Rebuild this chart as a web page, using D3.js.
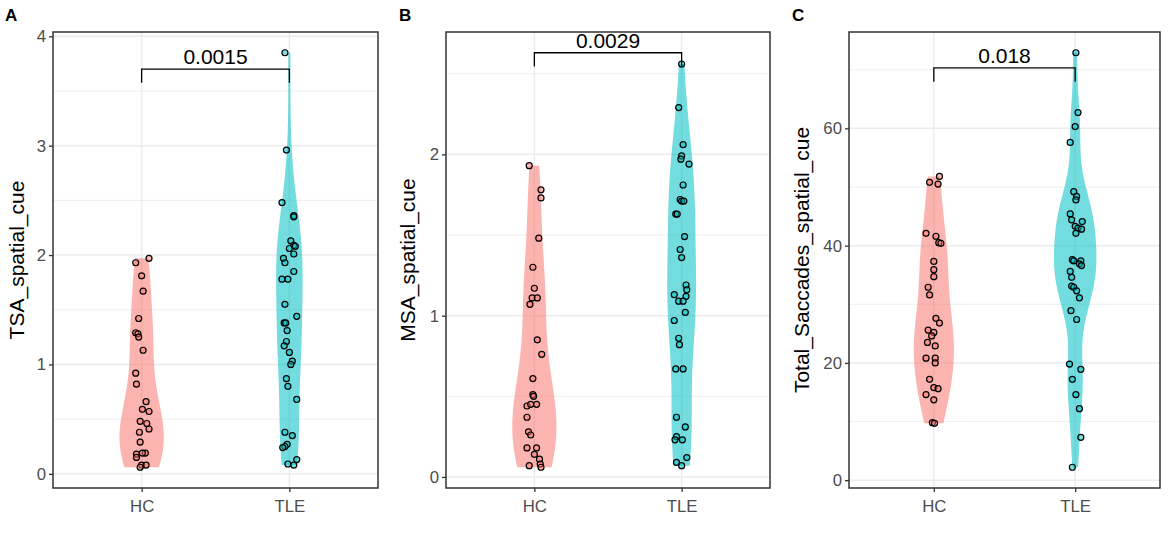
<!DOCTYPE html>
<html>
<head>
<meta charset="utf-8">
<script src="https://cdn.jsdelivr.net/npm/d3@7/dist/d3.min.js"></script>
<style>
  html, body { margin: 0; padding: 0; background: #fff; }
  svg { display: block; font-family: "Liberation Sans", Arial, sans-serif; }
</style>
</head>
<body>
<svg id="chart" width="1170" height="534"></svg>
<script>
// ---------------- DATA ----------------
const groups = ["HC", "TLE"];
const panelLetters = ["A", "B", "C"];
const yTitles = ["TSA_spatial_cue", "MSA_spatial_cue", "Total_Saccades_spatial_cue"];
const pValueLabels = ["0.0015", "0.0029", "0.018"];
const bracketY = [3.70, 2.63, 70.3];
const yTicksA = [0, 1, 2, 3, 4];
const yTicksB = [0, 1, 2];
const yTicksC = [0, 20, 40, 60];

// Panel A: TSA_spatial_cue
const tsaHC = [1.97, 1.93, 1.81, 1.67, 1.42, 1.29, 1.28, 1.25, 1.13, 0.92, 0.82, 0.66, 0.59, 0.57, 0.48, 0.46, 0.41, 0.38, 0.29, 0.19, 0.18, 0.19, 0.15, 0.08, 0.08, 0.06];
const tsaHCJitter = [0.05, -0.04, 0, 0.01, -0.02, -0.04, -0.025, -0.02, 0.01, -0.04, -0.035, 0.03, 0.005, 0.05, -0.01, 0.035, 0.05, -0.015, -0.01, 0.025, -0.035, 0.005, -0.035, 0, 0.03, -0.01];
const tsaTLE = [3.85, 2.96, 2.48, 2.36, 2.35, 2.13, 2.09, 2.08, 2.06, 2.01, 1.97, 1.93, 1.85, 1.78, 1.78, 1.55, 1.44, 1.38, 1.38, 1.31, 1.21, 1.17, 1.11, 1.03, 1.00, 0.87, 0.80, 0.68, 0.38, 0.35, 0.27, 0.25, 0.24, 0.13, 0.09, 0.08];
const tsaTLEJitter = [-0.03, -0.02, -0.05, 0.03, 0.03, 0.01, 0.03, 0.04, 0, 0.03, -0.04, -0.03, 0.03, -0.05, -0.01, -0.03, 0.05, -0.035, -0.025, -0.015, -0.02, -0.035, 0, 0.02, 0.01, -0.02, -0.01, 0.05, -0.03, 0.02, -0.015, -0.03, -0.045, 0.05, -0.01, 0.03];

// Panel B: MSA_spatial_cue
const msaHC = [1.93, 1.78, 1.73, 1.48, 1.30, 1.17, 1.11, 1.11, 1.07, 0.85, 0.76, 0.61, 0.51, 0.50, 0.45, 0.44, 0.45, 0.37, 0.28, 0.26, 0.18, 0.18, 0.14, 0.11, 0.07, 0.08, 0.06];
const msaHCJitter = [-0.035, 0.045, 0.045, 0.03, -0.01, 0, -0.015, 0.02, -0.03, 0.02, 0.05, -0.01, -0.01, -0.005, 0.015, -0.05, -0.025, -0.05, -0.04, -0.025, -0.05, 0.015, 0, 0.035, -0.035, 0.04, 0.045];
const msaTLE = [2.56, 2.29, 2.06, 1.99, 1.97, 1.94, 1.81, 1.72, 1.71, 1.71, 1.63, 1.63, 1.49, 1.41, 1.36, 1.19, 1.16, 1.13, 1.12, 1.09, 1.09, 1.02, 0.97, 0.86, 0.82, 0.67, 0.67, 0.37, 0.31, 0.25, 0.23, 0.23, 0.12, 0.09, 0.07];
const msaTLEJitter = [0, -0.02, 0.01, 0, -0.005, 0.05, 0.01, -0.01, 0, 0.015, -0.04, -0.03, 0.02, -0.01, 0, 0.03, 0.035, -0.05, 0.03, -0.02, 0.01, 0.025, -0.05, -0.02, -0.015, -0.04, 0.01, -0.035, 0.025, -0.035, -0.045, 0.005, 0.035, -0.035, 0];

// Panel C: Total_Saccades_spatial_cue
const tscHC = [51.8, 50.8, 50.5, 42.1, 41.6, 40.5, 40.4, 37.3, 35.9, 34.7, 32.9, 31.6, 27.6, 26.8, 25.6, 25.2, 24.6, 23.5, 22.9, 20.8, 20.8, 20.0, 17.2, 15.8, 15.6, 14.6, 13.7, 9.8, 9.7];
const tscHCJitter = [0.04, -0.03, 0.03, -0.055, 0.015, 0.035, 0.05, 0, 0, 0, -0.04, -0.03, 0.015, 0.04, -0.04, 0, -0.015, -0.045, 0.01, -0.055, 0.01, 0.01, -0.03, 0, 0.03, -0.055, 0, -0.01, 0.005];
const tscTLE = [72.9, 62.7, 60.3, 57.6, 49.2, 48.4, 47.8, 45.4, 44.4, 44.1, 43.3, 43.0, 42.8, 42.1, 37.6, 37.4, 37.4, 36.9, 36.6, 35.6, 34.6, 33.1, 32.9, 32.3, 31.1, 28.9, 27.4, 19.8, 18.9, 17.2, 14.6, 12.2, 7.3, 2.2];
const tscTLEJitter = [0.005, 0.02, 0, -0.035, -0.01, 0.01, 0.005, -0.035, -0.025, 0.05, 0, 0.02, 0.045, 0.005, -0.02, -0.01, 0.04, 0.03, 0.045, -0.035, -0.025, -0.025, -0.01, 0.01, 0.03, -0.03, 0.01, -0.04, 0.04, -0.02, 0.005, 0.03, 0.04, -0.02];

const colors = { HC: "#F8766D", TLE: "#00BFC4" };

// ---------------- LAYOUT ----------------
const panels = [
  { letter: panelLetters[0], title: yTitles[0], p: pValueLabels[0], br: bracketY[0], ticks: yTicksA,
    data: { HC: [tsaHC, tsaHCJitter], TLE: [tsaTLE, tsaTLEJitter] },
    left: 53, right: 378, titleX: 17, letterX: 5 },
  { letter: panelLetters[1], title: yTitles[1], p: pValueLabels[1], br: bracketY[1], ticks: yTicksB,
    data: { HC: [msaHC, msaHCJitter], TLE: [msaTLE, msaTLEJitter] },
    left: 446, right: 770, titleX: 408, letterX: 399 },
  { letter: panelLetters[2], title: yTitles[2], p: pValueLabels[2], br: bracketY[2], ticks: yTicksC,
    data: { HC: [tscHC, tscHCJitter], TLE: [tscTLE, tscTLEJitter] },
    left: 849, right: 1160, titleX: 802, letterX: 792 }
];
const plotTop = 32, plotBottom = 488;

const svg = d3.select("#chart");

function bwNrd0(v) {
  const s = v.slice().sort(d3.ascending);
  const sd = d3.deviation(s);
  const iqr = d3.quantile(s, 0.75) - d3.quantile(s, 0.25);
  let lo = Math.min(sd, iqr / 1.34);
  if (!(lo > 0)) lo = sd || 1;
  return 0.9 * lo * Math.pow(s.length, -0.2);
}
function kde(v) {
  const h = bwNrd0(v), n = v.length;
  const lo = d3.min(v), hi = d3.max(v);
  const pts = [];
  const N = 512;
  for (let i = 0; i < N; i++) {
    const yv = lo + (hi - lo) * i / (N - 1);
    let s = 0;
    for (const xi of v) { const u = (yv - xi) / h; s += Math.exp(-0.5 * u * u); }
    pts.push({ y: yv, d: s / (n * h * Math.sqrt(2 * Math.PI)) });
  }
  return pts;
}

panels.forEach(P => {
  const g = svg.append("g");
  const allVals = [].concat(P.data.HC[0], P.data.TLE[0], [P.br]);
  const lo = d3.min(allVals), hi = d3.max(allVals);
  const pad = (hi - lo) * 0.05;
  const y = d3.scaleLinear().domain([lo - pad, hi + pad]).range([plotBottom, plotTop]);
  const x = d3.scalePoint().domain(groups).range([P.left, P.right]).padding(0.6);
  const step = x.step();

  // minor grid
  const step0 = P.ticks[1] - P.ticks[0];
  const minor = [];
  for (let v = P.ticks[0] - step0 / 2; v <= hi + pad; v += step0) if (v >= lo - pad) minor.push(v);
  g.selectAll(".minor").data(minor).join("line")
    .attr("x1", P.left).attr("x2", P.right)
    .attr("y1", d => y(d)).attr("y2", d => y(d))
    .attr("stroke", "#EBEBEB").attr("stroke-width", 0.8);
  // major grid
  g.selectAll(".major").data(P.ticks).join("line")
    .attr("x1", P.left).attr("x2", P.right)
    .attr("y1", d => y(d)).attr("y2", d => y(d))
    .attr("stroke", "#EBEBEB").attr("stroke-width", 1.5);
  g.selectAll(".vmajor").data(groups).join("line")
    .attr("x1", d => x(d)).attr("x2", d => x(d))
    .attr("y1", plotTop).attr("y2", plotBottom)
    .attr("stroke", "#EBEBEB").attr("stroke-width", 1.5);

  // violins (scale = "area", width 0.3)
  const dens = groups.map(k => ({ k, pts: kde(P.data[k][0]) }));
  const maxD = d3.max(dens, o => d3.max(o.pts, p => p.d));
  dens.forEach(o => {
    const cx = x(o.k);
    const area = d3.area()
      .x0(p => cx - p.d / maxD * 0.15 * step)
      .x1(p => cx + p.d / maxD * 0.15 * step)
      .y(p => y(p.y));
    g.append("path").datum(o.pts).attr("d", area)
      .attr("fill", colors[o.k]).attr("fill-opacity", 0.55).attr("stroke", "none");
  });

  // points
  groups.forEach(k => {
    const [vals, jit] = P.data[k];
    g.selectAll(null).data(vals.map((v, i) => ({ v, j: jit[i] }))).join("circle")
      .attr("cx", d => x(k) + d.j * step)
      .attr("cy", d => y(d.v))
      .attr("r", 3)
      .attr("fill", colors[k]).attr("fill-opacity", 0.5)
      .attr("stroke", "#000").attr("stroke-width", 1.2);
  });

  // significance bracket
  const tip = (hi - lo + 2 * pad) * 0.03;
  const bp = d3.path();
  bp.moveTo(x("HC"), y(P.br - tip));
  bp.lineTo(x("HC"), y(P.br));
  bp.lineTo(x("TLE"), y(P.br));
  bp.lineTo(x("TLE"), y(P.br - tip));
  g.append("path").attr("d", bp.toString()).attr("fill", "none")
    .attr("stroke", "#000").attr("stroke-width", 1.3);
  g.append("text")
    .attr("x", (x("HC") + x("TLE")) / 2).attr("y", y(P.br) - 5)
    .attr("text-anchor", "middle").attr("font-size", 21).attr("fill", "#000")
    .text(P.p);

  // border
  g.append("rect").attr("x", P.left).attr("y", plotTop)
    .attr("width", P.right - P.left).attr("height", plotBottom - plotTop)
    .attr("fill", "none").attr("stroke", "#333333").attr("stroke-width", 1.5);

  // axes
  const ya = g.append("g").attr("transform", `translate(${P.left},0)`)
    .call(d3.axisLeft(y).tickValues(P.ticks).tickSize(4).tickPadding(3).tickFormat(d3.format("d")));
  const xa = g.append("g").attr("transform", `translate(0,${plotBottom})`)
    .call(d3.axisBottom(x).tickSize(4).tickPadding(8));
  [ya, xa].forEach(a => {
    a.select(".domain").remove();
    a.selectAll(".tick line").attr("stroke", "#333333").attr("stroke-width", 1.3);
    a.selectAll(".tick text").attr("fill", "#4D4D4D").attr("font-size", 16.8)
      .attr("font-family", "'Liberation Sans', Arial, sans-serif");
  });

  // y title
  g.append("text")
    .attr("transform", `translate(${P.titleX},${(plotTop + plotBottom) / 2}) rotate(-90)`)
    .attr("text-anchor", "middle").attr("dy", "0.35em")
    .attr("font-size", 21).attr("fill", "#000")
    .text(P.title);

  // panel letter
  g.append("text").attr("x", P.letterX).attr("y", 21)
    .attr("font-size", 17).attr("font-weight", "bold").attr("fill", "#000")
    .text(P.letter);
});
</script>
</body>
</html>
